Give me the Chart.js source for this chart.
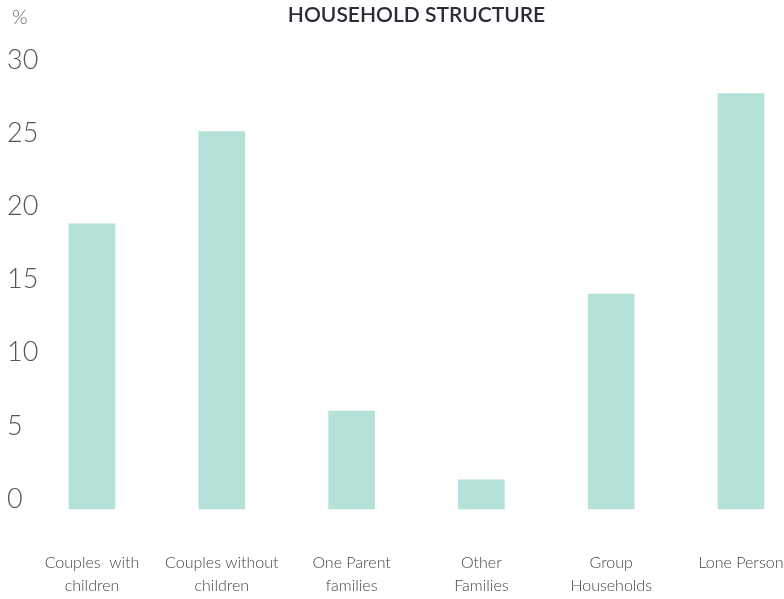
<!DOCTYPE html>
<html>
<head>
<meta charset="utf-8">
<script src="https://cdn.jsdelivr.net/npm/chart.js@4"></script>
<style>
  html, body { margin: 0; padding: 0; background: #fff; overflow: hidden; }
  #wrap { width: 784px; height: 599px; }
</style>
</head>
<body>
<div id="wrap"><canvas id="chart"></canvas></div>
<script>
const categories = [
  ['Couples  with', 'children'],
  ['Couples without', 'children'],
  ['One Parent', 'families'],
  ['Other', 'Families'],
  ['Group', 'Households'],
  'Lone Person'
]
const shares = [19.5, 25.8, 6.7, 2.0, 14.7, 28.4]
const yTicks = [0, 5, 10, 15, 20, 25, 30]

// small "%" unit label in the top left corner
const unitLabel = {
  id: 'unitLabel',
  afterDraw(chart) {
    const ctx = chart.ctx
    ctx.save()
    ctx.font = '300 20px Lato'
    ctx.fillStyle = '#666'
    ctx.textBaseline = 'middle'
    ctx.fillText('%', 12, 18)
    ctx.restore()
  }
}

new Chart(document.getElementById('chart'), {
  type: 'bar',
  data: {
    labels: categories,
    datasets: [{
      data: shares,
      backgroundColor: '#b4e2d8',
      barThickness: 46,
      clip: false
    }]
  },
  options: {
    responsive: true,
    maintainAspectRatio: false,
    animation: false,
    layout: { padding: { left: 7, right: 43, top: 0, bottom: 0 } },
    plugins: {
      legend: { display: false },
      tooltip: { enabled: false },
      title: {
        display: true,
        text: 'HOUSEHOLD STRUCTURE',
        fullSize: false,
        color: '#2b2e36',
        font: { family: 'Lato', size: 21, weight: '600' },
        padding: { top: 3, bottom: 42 }
      }
    },
    scales: {
      x: {
        offset: false,
        grid: { display: false, drawTicks: false },
        border: { display: false },
        afterFit(scale) {
          // fixed band under the bars, no extra side padding
          scale.height = 90
          scale.paddingLeft = 0
          scale.paddingRight = 0
        },
        ticks: {
          color: '#444',
          padding: 43,
          maxRotation: 0,
          autoSkip: false,
          font: { family: 'Lato', size: 16, weight: '300', lineHeight: 1.4 }
        }
      },
      y: {
        min: 0,
        max: 30,
        grid: { display: false, drawTicks: false },
        border: { display: false },
        afterFit(scale) {
          scale.width = 85
          scale.paddingTop = 0
          scale.paddingBottom = 0
        },
        afterBuildTicks(scale) { scale.ticks = yTicks.map(v => ({ value: v })) },
        ticks: {
          color: '#555',
          crossAlign: 'far',
          labelOffset: -10,
          font: { family: 'Lato', size: 27, weight: '300' }
        }
      }
    }
  },
  plugins: [unitLabel]
})
</script>
</body>
</html>
